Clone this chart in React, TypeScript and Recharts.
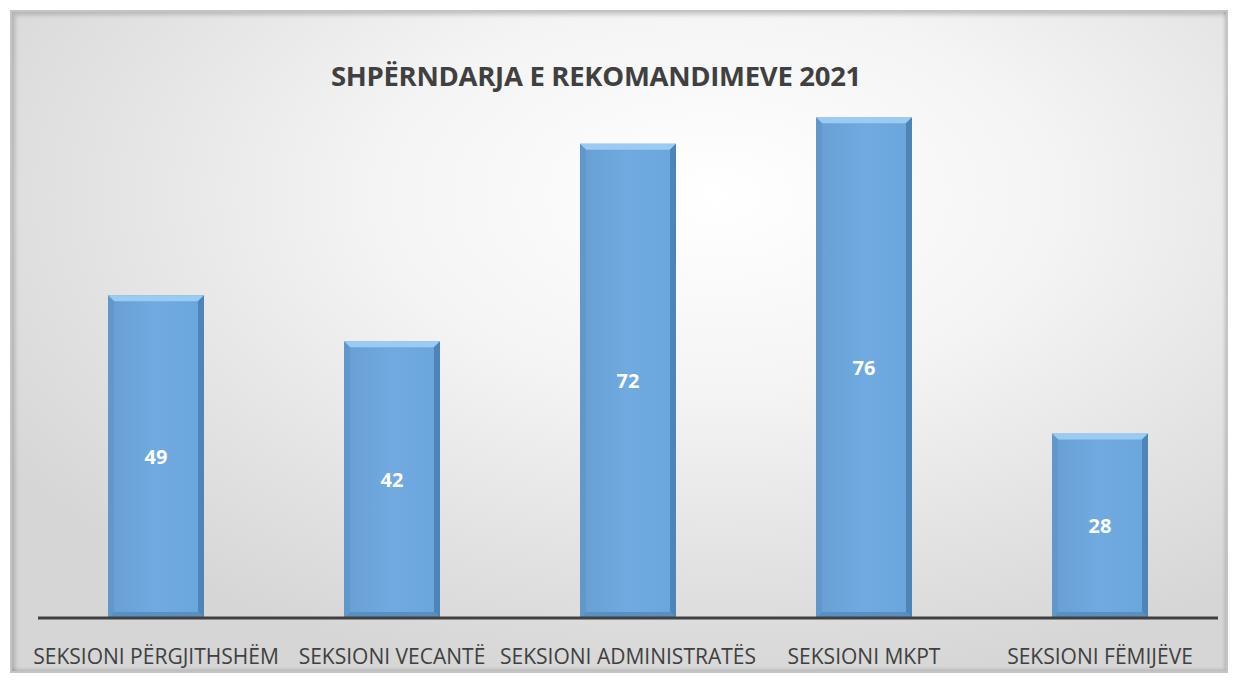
import React from "react";
import { BarChart, Bar, XAxis, YAxis, LabelList } from "recharts";

const categories = [
  "SEKSIONI PËRGJITHSHËM",
  "SEKSIONI VECANTË",
  "SEKSIONI ADMINISTRATËS",
  "SEKSIONI MKPT",
  "SEKSIONI FËMIJËVE",
];
const values = [49, 42, 72, 76, 28];
const title = "SHPËRNDARJA E REKOMANDIMEVE 2021";

const data = categories.map((c, i) => ({ name: c, value: values[i] }));

const BevelBar = (props: any) => {
  const { x, y, width, height } = props;
  if (!height || height <= 0) return null;
  const b = 6;
  return (
    <g>
      <rect x={x} y={y} width={width} height={height} fill="url(#barFill)" />
      <polygon
        points={`${x},${y} ${x + width},${y} ${x + width - b},${y + b} ${x + b},${y + b}`}
        fill="#9ccbf1"
      />
      <polygon
        points={`${x + width},${y} ${x + width},${y + height} ${x + width - b},${y + height - b} ${x + width - b},${y + b}`}
        fill="#4f84b6"
      />
      <polygon
        points={`${x},${y} ${x + b},${y + b} ${x + b},${y + height - b} ${x},${y + height}`}
        fill="#6198cc"
      />
      <polygon
        points={`${x},${y + height} ${x + b},${y + height - b} ${x + width - b},${y + height - b} ${x + width},${y + height}`}
        fill="#5a8fc2"
      />
    </g>
  );
};

export default function App() {
  return (
    <div
      style={{
        position: "relative",
        width: 1214,
        height: 659,
        marginLeft: 2,
        marginTop: 2,
        border: "2px solid #c4c4c4",
        boxShadow: "inset 3px 3px 4px rgba(0,0,0,0.18), inset -2px -2px 3px rgba(0,0,0,0.12)",
        background:
          "radial-gradient(ellipse 70% 75% at 58% 28%, #ffffff 0%, #f4f4f4 40%, #e2e2e2 75%, #d6d6d6 100%)",
        fontFamily: "'Open Sans', sans-serif",
      }}
    >
      <div
        style={{
          position: "absolute",
          left: 0,
          width: 1168,
          top: 45,
          textAlign: "center",
          fontSize: 27.5,
          fontWeight: 700,
          color: "#404040",
          fontFamily: "'Open Sans', sans-serif",
          letterSpacing: -0.3,
        }}
      >
        {title}
      </div>
      <BarChart
        width={1214}
        height={659}
        data={data}
        margin={{ top: 79, right: 8, bottom: 8, left: 26 }}
        style={{ position: "absolute", left: 0, top: 0 }}
      >
        <defs>
          <linearGradient id="barFill" x1="0" y1="0" x2="1" y2="0">
            <stop offset="0%" stopColor="#689fd3" />
            <stop offset="50%" stopColor="#70aae0" />
            <stop offset="100%" stopColor="#6aa5dd" />
          </linearGradient>
        </defs>
        <YAxis hide domain={[0, 80]} />
        <XAxis
          dataKey="name"
          height={45}
          axisLine={{ stroke: "#404040", strokeWidth: 3 }}
          tickLine={false}
          tickSize={0}
          tickMargin={31}
          interval={0}
          tick={{ fill: "#404040", fontSize: 21, fontFamily: "'Open Sans', sans-serif" }}
        />
        <Bar dataKey="value" barSize={96} shape={<BevelBar />} isAnimationActive={false}>
          <LabelList
            dataKey="value"
            position="center"
            fill="#ffffff"
            fontSize={20}
            fontWeight={700}
            fontFamily="'Open Sans', sans-serif"
          />
        </Bar>
      </BarChart>
    </div>
  );
}
